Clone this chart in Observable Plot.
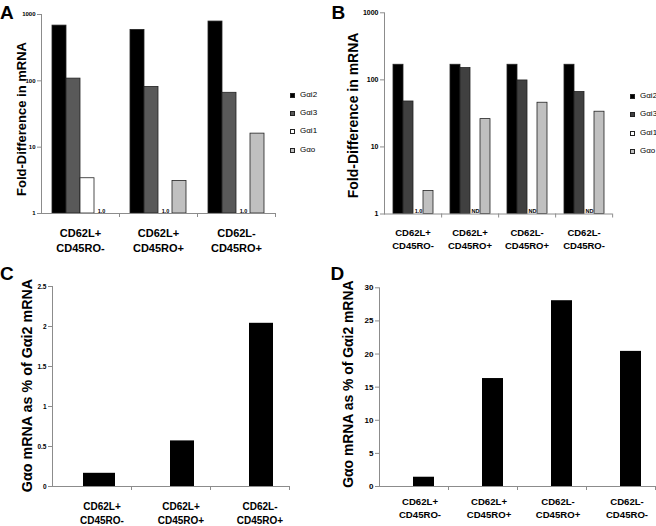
<!DOCTYPE html>
<html><head><meta charset="utf-8">
<script src="https://cdn.jsdelivr.net/npm/d3@7"></script>
<script src="https://cdn.jsdelivr.net/npm/@observablehq/plot@0.6"></script>
<style>
body{margin:0;background:#fff;}
#root{position:relative;width:656px;height:526px;overflow:hidden;background:#fff;}
.panel{position:absolute;}
.letter{position:absolute;font:bold 19px "Liberation Sans",Arial,sans-serif;line-height:1;color:#000;}
.lg{position:absolute;font:8px "Liberation Sans",Arial,sans-serif;line-height:8px;white-space:nowrap;color:#000;}
.sw{position:absolute;width:5px;height:5px;box-sizing:border-box;border:1px solid #222;}
</style></head><body><div id="root"></div>
<script>
// ---------- data ----------
const series = ["Gαi2", "Gαi3", "Gαi1", "Gαo"];

const groupsA = ["CD62L+\nCD45RO-", "CD62L+\nCD45RO+", "CD62L-\nCD45RO+"];
const aGai2 = [680, 586, 783];
const aGai3 = [108, 81, 66];
const aGai1 = [3.4, 1.0, 1.0];   // 1.0 = labelled "1.0"
const aGao  = [1.0, 3.1, 16];

const groupsB = ["CD62L+\nCD45RO-", "CD62L+\nCD45RO+", "CD62L-\nCD45RO+", "CD62L-\nCD45RO-"];
const bGai2 = [168, 168, 168, 168];
const bGai3 = [47.6, 150, 98, 66];
const bGai1 = [1.0, null, null, null]; // null = "ND"
const bGao  = [2.2, 26, 45.6, 33.5];

const groupsC = ["CD62L+\nCD45RO-", "CD62L+\nCD45RO+", "CD62L-\nCD45RO+"];
const cGao = [0.165, 0.57, 2.04];

const groupsD = ["CD62L+\nCD45RO-", "CD62L+\nCD45RO+", "CD62L-\nCD45RO+", "CD62L-\nCD45RO-"];
const dGao = [1.4, 16.3, 28.05, 20.4];

const logTicks = [1, 10, 100, 1000];
const cTicks = [0, 0.5, 1, 1.5, 2, 2.5];
const dTicks = [0, 5, 10, 15, 20, 25, 30];

const colorsA = ["#000000", "#595959", "#ffffff", "#c0c0c0"];
const colorsB = ["#000000", "#404040", "#ffffff", "#c0c0c0"];

const yLabelAB = "Fold-Difference in mRNA";
const yLabelCD = "Gαo mRNA as % of Gαi2 mRNA";

// ---------- helpers ----------
const NARROW = '"Liberation Sans Narrow","Liberation Sans",Arial,sans-serif';
const SANS = '"Liberation Sans",Arial,sans-serif';
const GRAY = "#8c8c8c";
const root = document.getElementById("root");

function place(el, left, top) {
  el.classList.add("panel");
  el.style.left = left + "px";
  el.style.top = top + "px";
  root.appendChild(el);
}

function yTitle(text, o, extra = {}) {
  return Plot.text([text], {frameAnchor: "left", textAnchor: "middle", rotate: -90, dx: -o.labelOffset, dy: o.labelDy || 0,
    lineAnchor: "top", fontSize: o.labelSize, fontWeight: "bold", fontFamily: SANS, fill: "#000", ...extra});
}

function grouped(o) {
  const rows = [];
  o.groups.forEach((g, i) => series.forEach((s, j) => rows.push({group: g, series: s, value: o.cols[j][i]})));
  const bars = rows.filter(d => d.value != null && d.value > 1);
  const notes = rows.filter(d => d.value == null || d.value === 1)
                    .map(d => ({...d, note: d.value == null ? "ND" : "1.0"}));
  const half = (o.width - o.ml - o.mr) / o.groups.length / 2;
  return Plot.plot({
    width: o.width, height: o.height,
    marginTop: o.mt, marginRight: o.mr, marginBottom: o.mb, marginLeft: o.ml,
    style: {fontFamily: NARROW, background: "transparent", color: "#000", overflow: "visible"},
    fx: {domain: o.groups, padding: 0, axis: null},
    x: {domain: series, paddingInner: 0, paddingOuter: 0.68, axis: null},
    y: {type: "log", domain: [1, 1000], axis: null},
    color: {domain: series, range: o.colors},
    marks: [
      Plot.barY(bars, {fx: "group", x: "series", y1: 1, y2: "value", fill: "series", stroke: "#222", strokeWidth: 0.8}),
      Plot.text(notes, {fx: "group", x: "series", y: 1, text: "note", lineAnchor: "bottom", dy: -1, fontSize: 5.5, fontWeight: "bold", fontFamily: NARROW, fill: "#000"}),
      Plot.ruleY([1], {stroke: GRAY}),
      Plot.frame({anchor: "left", facetAnchor: "left", stroke: GRAY}),
      Plot.axisY({ticks: logTicks, tickFormat: d => String(d), tickSize: 4, tickPadding: 2, stroke: GRAY, fill: "#000",
                  fontSize: o.tickSize, fontWeight: "bold", fontFamily: o.tickFamily, label: null}),
      yTitle(yLabelAB, o, {facetAnchor: "left"}),
      Plot.axisFx({anchor: "bottom", tickSize: 0, tickPadding: o.catPad, fontSize: o.catSize, fontWeight: "bold",
                   fontFamily: NARROW, lineHeight: 1.35, label: null, fill: "#000"}),
      Plot.axisFx({anchor: "bottom", tickSize: 4, tickFormat: () => "", dx: half, stroke: GRAY, label: null})
    ]
  });
}

function single(o) {
  const rows = o.groups.map((g, i) => ({group: g, value: o.values[i]}));
  const half = (o.width - o.ml - o.mr) / o.groups.length / 2;
  const firstL = o.firstInsetL ?? o.insetL;
  return Plot.plot({
    width: o.width, height: o.height,
    marginTop: o.mt, marginRight: o.mr, marginBottom: o.mb, marginLeft: o.ml,
    style: {fontFamily: NARROW, background: "transparent", color: "#000", overflow: "visible"},
    x: {domain: o.groups, padding: 0, axis: null},
    y: {domain: [0, o.ticks[o.ticks.length - 1]], axis: null},
    marks: [
      Plot.barY(rows.slice(0, 1), {x: "group", y: "value", fill: "#000", insetLeft: firstL, insetRight: o.insetR}),
      Plot.barY(rows.slice(1), {x: "group", y: "value", fill: "#000", insetLeft: o.insetL, insetRight: o.insetR}),
      Plot.ruleY([0], {stroke: GRAY}),
      Plot.frame({anchor: "left", stroke: GRAY}),
      Plot.axisY({ticks: o.ticks, tickFormat: d => String(d), tickSize: 4, tickPadding: 2, stroke: GRAY, fill: "#000",
                  fontSize: o.tickSize, fontWeight: "bold", fontFamily: o.tickFamily, label: null}),
      yTitle(yLabelCD, o),
      Plot.axisX({anchor: "bottom", tickSize: 0, tickPadding: o.catPad, dx: o.labelDx, fontSize: o.catSize, fontWeight: "bold",
                  fontFamily: NARROW, lineHeight: 1.4, label: null, fill: "#000"}),
      Plot.axisX({anchor: "bottom", tickSize: 4, tickFormat: () => "", dx: half, stroke: GRAY, label: null})
    ]
  });
}

function legend(colors, left, tops) {
  series.forEach((s, i) => {
    const sw = document.createElement("div");
    sw.className = "sw";
    sw.style.left = left + "px";
    sw.style.top = (tops[i] - 2.5) + "px";
    sw.style.background = colors[i];
    root.appendChild(sw);
    const t = document.createElement("div");
    t.className = "lg";
    t.textContent = s;
    t.style.left = (left + 10) + "px";
    t.style.top = (tops[i] - 4.5) + "px";
    root.appendChild(t);
  });
}

function letter(ch, left, top) {
  const d = document.createElement("div");
  d.className = "letter";
  d.textContent = ch;
  d.style.left = left + "px";
  d.style.top = top + "px";
  root.appendChild(d);
}

// ---------- panels ----------
place(grouped({groups: groupsA, cols: [aGai2, aGai3, aGai1, aGao], colors: colorsA,
  width: 330, height: 260, mt: 14, mr: 55, mb: 47, ml: 41,
  tickSize: 6, tickFamily: NARROW, labelSize: 13, labelOffset: 25, labelDy: 5, catSize: 11, catPad: 13}), 0, 0);

place(grouped({groups: groupsB, cols: [bGai2, bGai3, bGai1, bGao], colors: colorsB,
  width: 326, height: 260, mt: 12.3, mr: 44, mb: 46.5, ml: 53,
  tickSize: 7, tickFamily: SANS, labelSize: 14, labelOffset: 36, labelDy: 2, catSize: 9.5, catPad: 13}), 330, 0);

place(single({groups: groupsC, values: cGao, ticks: cTicks,
  width: 330, height: 256, mt: 16, mr: 41, mb: 40, ml: 52, insetL: 39, insetR: 16, firstInsetL: 31,
  tickSize: 6.5, tickFamily: NARROW, labelSize: 14.3, labelOffset: 31, labelDy: -1, catSize: 10, catPad: 14, labelDx: 10}), 0, 270);

place(single({groups: groupsD, values: dGao, ticks: dTicks,
  width: 326, height: 256, mt: 17.3, mr: 1, mb: 40, ml: 49, insetL: 34, insetR: 14,
  tickSize: 8, tickFamily: SANS, labelSize: 13.9, labelOffset: 36, labelDy: -3, catSize: 9.6, catPad: 9, labelDx: 6}), 330, 270);

legend(colorsA, 290, [95, 113.3, 131.7, 150]);
legend(colorsB, 630, [96.7, 114.3, 133, 151.7]);

letter("A", 0, 2.5);
letter("B", 331.5, 2.5);
letter("C", 0, 264);
letter("D", 330.5, 264);
</script>
</body></html>
